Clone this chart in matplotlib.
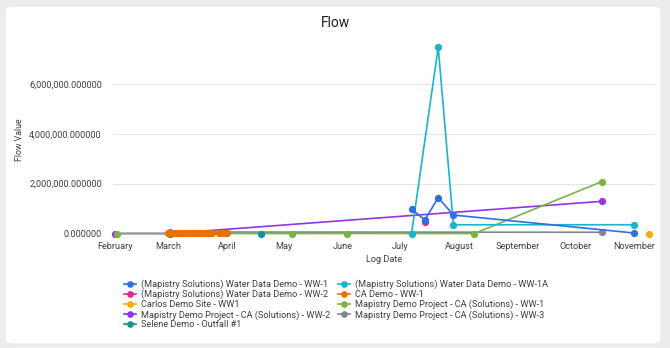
import matplotlib
matplotlib.use('Agg')
import matplotlib.pyplot as plt
import matplotlib.dates as mdates
from matplotlib.patches import FancyBboxPatch
import pandas as pd

plt.rcParams['font.family'] = ['Roboto', 'DejaVu Sans']

# series data
ww1_dates = ['2023-07-07', '2023-07-14', '2023-07-21', '2023-07-29', '2023-11-01']
ww1_vals = [980000, 540000, 1440000, 740000, 20000]

ww1a_dates = ['2023-07-07', '2023-07-21', '2023-07-29', '2023-11-01']
ww1a_vals = [0, 7470000, 350000, 350000]

ww2_dates = ['2023-07-14']
ww2_vals = [450000]

ca_dates = ['2023-03-01', '2023-03-02', '2023-03-03', '2023-03-04', '2023-03-05',
            '2023-03-06', '2023-03-07', '2023-03-08', '2023-03-09', '2023-03-10',
            '2023-03-11', '2023-03-12', '2023-03-13', '2023-03-14', '2023-03-15',
            '2023-03-16', '2023-03-17', '2023-03-18', '2023-03-19', '2023-03-20',
            '2023-03-21', '2023-03-22', '2023-03-23', '2023-03-24',
            '2023-03-28', '2023-03-29', '2023-03-31', '2023-04-01']
ca_vals = [12000, 9000, 15000, 11000, 8000, 14000, 10000, 13000, 9000, 12000,
           7000, 11000, 15000, 10000, 9000, 13000, 12000, 8000, 14000, 10000,
           11000, 9000, 13000, 12000, 10000, 9000, 11000, 12000]

carlos_dates = ['2023-11-09']
carlos_vals = [0]

mp_ww1_dates = ['2023-02-02', '2023-05-05', '2023-06-03', '2023-08-09', '2023-10-15']
mp_ww1_vals = [0, 0, 0, 0, 2080000]

mp_ww2_dates = ['2023-02-01', '2023-03-02', '2023-10-15']
mp_ww2_vals = [0, 0, 1290000]

mp_ww3_dates = ['2023-03-02', '2023-10-15']
mp_ww3_vals = [60000, 50000]

selene_dates = ['2023-04-19']
selene_vals = [0]

month_ticks = ['2023-02-01', '2023-03-01', '2023-04-01', '2023-05-01', '2023-06-01',
               '2023-07-01', '2023-08-01', '2023-09-01', '2023-10-01', '2023-11-01']
y_ticks = [0, 2000000, 4000000, 6000000]

series = [
    ('(Mapistry Solutions) Water Data Demo - WW-1', ww1_dates, ww1_vals, '#2f6fe4'),
    ('(Mapistry Solutions) Water Data Demo - WW-1A', ww1a_dates, ww1a_vals, '#1ab4cc'),
    ('(Mapistry Solutions) Water Data Demo - WW-2', ww2_dates, ww2_vals, '#e8278f'),
    ('CA Demo - WW-1', ca_dates, ca_vals, '#e8710a'),
    ('Carlos Demo Site - WW1', carlos_dates, carlos_vals, '#f9ab00'),
    ('Mapistry Demo Project - CA (Solutions) - WW-1', mp_ww1_dates, mp_ww1_vals, '#7cb342'),
    ('Mapistry Demo Project - CA (Solutions) - WW-2', mp_ww2_dates, mp_ww2_vals, '#9334e6'),
    ('Mapistry Demo Project - CA (Solutions) - WW-3', mp_ww3_dates, mp_ww3_vals, '#80868b'),
    ('Selene Demo - Outfall #1', selene_dates, selene_vals, '#12939a'),
]
# draw order so the picture layers like the original
draw_order = [7, 6, 5, 3, 4, 8, 2, 1, 0]

fig = plt.figure(figsize=(6.7, 3.48), dpi=100)
fig.patch.set_facecolor('#ededed')
card = FancyBboxPatch((5 / 670, 4 / 348), 656 / 670, 338 / 348,
                      boxstyle='round,pad=0,rounding_size=0.012',
                      transform=fig.transFigure, facecolor='white',
                      edgecolor='#e2e2e2', linewidth=0.6, zorder=-5)
fig.patches.append(card)

ax = fig.add_axes([113 / 670, 1 - 233.5 / 348, 542 / 670, 199.5 / 348])
ax.set_zorder(2)
ax.set_facecolor('none')

handles = {}
for i in draw_order:
    name, d, v, c = series[i]
    h, = ax.plot(pd.to_datetime(d), v, '-o', color=c, lw=1.2, ms=4.2,
                 clip_on=False, zorder=3 + draw_order.index(i), label=name)
    handles[i] = h

ax.set_ylim(0, 8000000)
ax.set_xlim(pd.Timestamp('2023-01-31'), pd.Timestamp('2023-11-12'))
ax.set_yticks(y_ticks)
ax.set_yticklabels(['{:,.6f}'.format(t) for t in y_ticks])
ax.set_xticks(pd.to_datetime(month_ticks))
ax.xaxis.set_major_formatter(mdates.DateFormatter('%B'))
ax.tick_params(length=0, labelsize=6.6, colors='#3c4043')
ax.tick_params(axis='y', pad=8)
ax.tick_params(axis='x', pad=6)
ax.grid(axis='y', color='#e4e4e4', lw=0.8)
ax.set_axisbelow(True)
for s in ax.spines.values():
    s.set_visible(False)

fig.text(0.5, 1 - 23 / 348, 'Flow', ha='center', va='center', fontsize=10, color='#202124')
fig.text(20 / 670, 1 - 140 / 348, 'Flow Value', rotation=90, ha='center', va='center',
         fontsize=6.3, color='#3c4043')
fig.text(384 / 670, 1 - 259 / 348, 'Log Date', ha='center', va='center',
         fontsize=6.6, color='#3c4043')

leg_idx = [0, 2, 4, 6, 8, 1, 3, 5, 7]
fig.legend([handles[i] for i in leg_idx], [series[i][0] for i in leg_idx],
           ncol=2, loc='upper left', bbox_to_anchor=(119 / 670, 1 - 275 / 348),
           frameon=False, fontsize=6.6, handlelength=1.3, handletextpad=0.6,
           columnspacing=0.8, labelspacing=0.08, borderpad=0, markerscale=0.9,
           labelcolor='#3c4043')

fig.savefig('out.png', dpi=100, facecolor=fig.get_facecolor())
